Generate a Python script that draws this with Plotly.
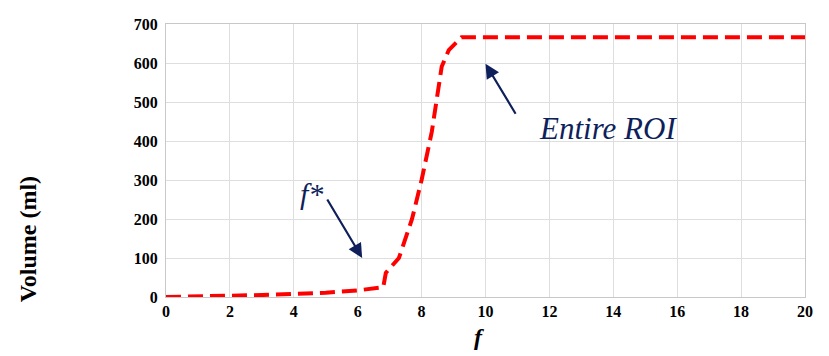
import plotly.graph_objects as go

f_vals = [0, 1, 2, 3, 4, 5, 6, 6.8, 6.88, 7.29, 7.7, 8.0, 8.32, 8.63, 8.85, 9.25, 10, 12, 14, 16, 18, 20]
volume = [0, 1, 3, 5, 8, 11, 17, 25, 62, 100, 200, 300, 424, 591, 633, 666, 666, 666, 666, 666, 666, 666]

x_ticks = list(range(0, 21, 2))
y_ticks = list(range(0, 701, 100))

navy = "#0f1f5c"
serif = "Liberation Serif"

fig = go.Figure()
fig.add_trace(go.Scatter(x=f_vals, y=volume, mode="lines",
                         line=dict(color="#ff0000", width=4, dash="15px,7px"),
                         showlegend=False))

# page body has an 8px margin, so the figure is sized/offset to compensate
fig.update_layout(
    width=813, height=348,
    margin=dict(l=158, r=13, t=8, b=59),
    paper_bgcolor="white", plot_bgcolor="white",
    font=dict(family=serif, color="black"),
)
fig.update_xaxes(range=[0, 20], tickvals=x_ticks, ticktext=[f"<b>{v}</b>" for v in x_ticks],
                 showgrid=True, gridcolor="#dedede", gridwidth=1,
                 showline=True, linecolor="#c8c8c8", mirror=True, zeroline=False,
                 tickfont=dict(size=16, family=serif, color="black"), ticks="")
fig.update_yaxes(range=[0, 700], tickvals=y_ticks, ticktext=[f"<b>{v}</b>" for v in y_ticks],
                 showgrid=True, gridcolor="#dedede", gridwidth=1,
                 showline=True, linecolor="#c8c8c8", mirror=True, zeroline=False,
                 tickfont=dict(size=16, family=serif, color="black"), ticks="", ticklabelstandoff=4)

# axis titles
fig.add_annotation(text="<b>Volume (ml)</b>", xref="paper", yref="paper",
                   x=-0.2165, y=0.21, textangle=-90, showarrow=False,
                   font=dict(size=24, family=serif, color="black"), xanchor="center", yanchor="middle")
fig.add_annotation(text="<b><i>f</i></b>", xref="x", yref="paper",
                   x=9.8, y=-0.146, showarrow=False,
                   font=dict(size=24, family=serif, color="black"), yanchor="middle")

# callouts
fig.add_annotation(text="<i>f*</i>", xref="x", yref="y", x=4.55, y=265, showarrow=False,
                   font=dict(size=30, family=serif, color=navy))
fig.add_annotation(text="", xref="x", yref="y", x=6.14, y=100, ax=5.02, ay=254,
                   axref="x", ayref="y", showarrow=True, arrowhead=2, arrowsize=1.3,
                   arrowwidth=2.2, arrowcolor=navy)
fig.add_annotation(text="<i>Entire ROI</i>", xref="x", yref="y", x=13.83, y=431, showarrow=False,
                   font=dict(size=31, family=serif, color=navy))
fig.add_annotation(text="", xref="x", yref="y", x=10.0, y=598, ax=10.97, ay=466,
                   axref="x", ayref="y", showarrow=True, arrowhead=2, arrowsize=1.3,
                   arrowwidth=2.2, arrowcolor=navy)

fig.write_html("out.html")
